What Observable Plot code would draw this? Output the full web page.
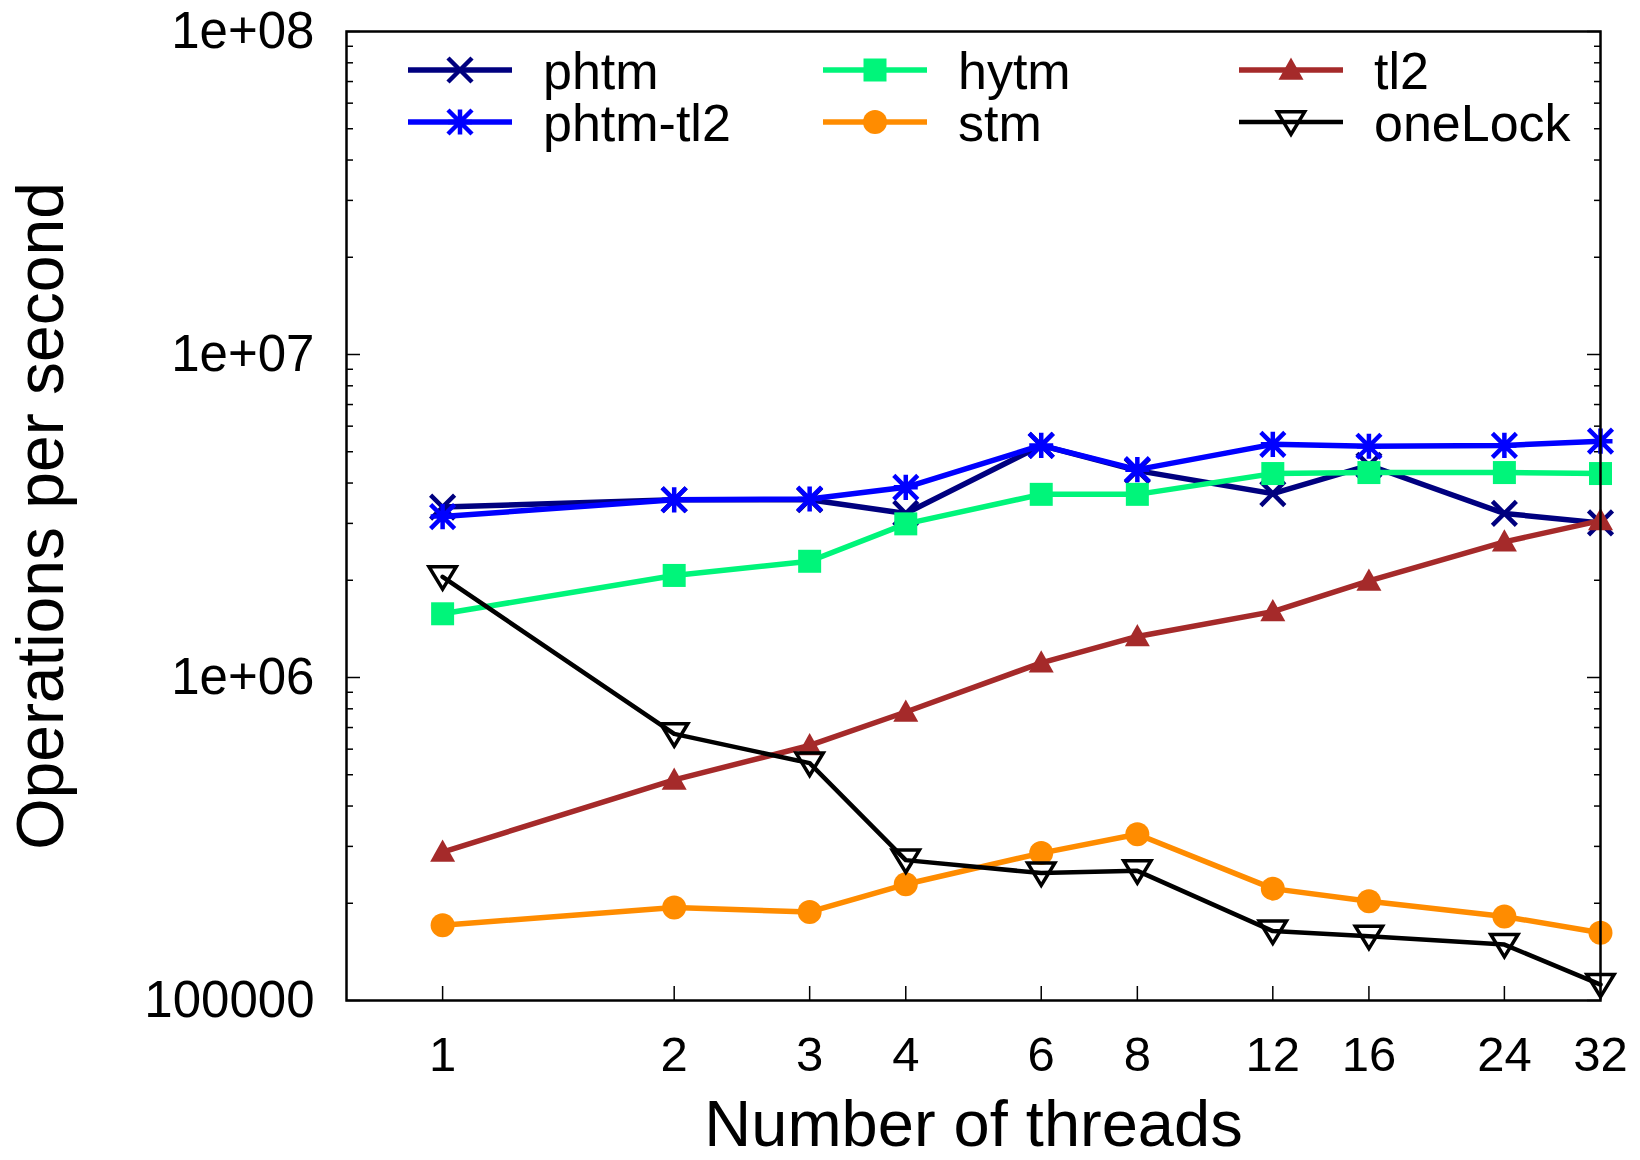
<!DOCTYPE html>
<html>
<head>
<meta charset="utf-8">
<script src="https://cdn.jsdelivr.net/npm/d3@7"></script>
<script src="https://cdn.jsdelivr.net/npm/@observablehq/plot@0.6"></script>
<style>
  html, body { margin: 0; padding: 0; background: #ffffff; }
  #chart { width: 1640px; height: 1160px; }
</style>
</head>
<body>
<div id="chart"></div>
<script>
// ---------------- data ----------------
const threads = [1, 2, 3, 4, 6, 8, 12, 16, 24, 32];
const seriesNames = ["phtm", "phtm-tl2", "hytm", "stm", "tl2", "oneLock"];
const phtm    = [3.37e6, 3.55e6, 3.55e6, 3.22e6, 5.23e6, 4.37e6, 3.71e6, 4.54e6, 3.22e6, 3.01e6];
const phtmTl2 = [3.15e6, 3.55e6, 3.57e6, 3.88e6, 5.23e6, 4.40e6, 5.27e6, 5.20e6, 5.23e6, 5.39e6];
const hytm    = [1.575e6, 2.07e6, 2.29e6, 2.99e6, 3.69e6, 3.69e6, 4.28e6, 4.31e6, 4.31e6, 4.28e6];
const stm     = [1.71e5, 1.94e5, 1.88e5, 2.29e5, 2.86e5, 3.27e5, 2.22e5, 2.03e5, 1.82e5, 1.62e5];
const tl2     = [2.88e5, 4.82e5, 6.16e5, 7.82e5, 1.11e6, 1.34e6, 1.60e6, 1.99e6, 2.63e6, 3.06e6];
const oneLock = [2.05e6, 6.69e5, 5.43e5, 2.72e5, 2.48e5, 2.52e5, 1.64e5, 1.58e5, 1.49e5, 1.12e5];
const xTickValues = [1, 2, 3, 4, 6, 8, 12, 16, 24, 32];
const xTickLabels = ["1", "2", "3", "4", "6", "8", "12", "16", "24", "32"];
const yTickValues = [1e5, 1e6, 1e7, 1e8];
const yTickLabels = ["100000", "1e+06", "1e+07", "1e+08"];
const yMinorValues = [2e5,3e5,4e5,5e5,6e5,7e5,8e5,9e5,2e6,3e6,4e6,5e6,6e6,7e6,8e6,9e6,2e7,3e7,4e7,5e7,6e7,7e7,8e7,9e7];
const xLabel = "Number of threads";
const yLabel = "Operations per second";

// ---------------- symbols ----------------
const R = s => Math.sqrt(s / Math.PI);
const symCross = {draw(c, s) { const r = R(s); c.moveTo(-r, -r); c.lineTo(r, r); c.moveTo(-r, r); c.lineTo(r, -r); }};
const symStar = {draw(c, s) { const r = R(s); c.moveTo(-r, -r); c.lineTo(r, r); c.moveTo(-r, r); c.lineTo(r, -r); c.moveTo(0, -r * 1.05); c.lineTo(0, r * 1.05); c.moveTo(-r, 0); c.lineTo(r, 0); }};
const symSquare = {draw(c, s) { const r = R(s); c.rect(-r, -r, 2 * r, 2 * r); }};
const symCircle = {draw(c, s) { const r = R(s); c.moveTo(r, 0); c.arc(0, 0, r, 0, 2 * Math.PI); }};
const symTriUp = {draw(c, s) { const r = R(s); c.moveTo(0, -r); c.lineTo(r, 0.78 * r); c.lineTo(-r, 0.78 * r); c.closePath(); }};
const symTriDown = {draw(c, s) { const r = R(s); c.moveTo(0, r * 0.95); c.lineTo(r * 1.05, -0.78 * r); c.lineTo(-r * 1.05, -0.78 * r); c.closePath(); }};

const styles = {
  "phtm":     {color: "#00007f", symbol: symCross,   r: 12,   fill: "none", sw: 4.5, lw: 5.5},
  "phtm-tl2": {color: "#0000ff", symbol: symStar,    r: 12,   fill: "none", sw: 4.5, lw: 5.5},
  "hytm":     {color: "#00f57a", symbol: symSquare,  r: 11.5, fill: "#00f57a", sw: 0, lw: 5.5},
  "stm":      {color: "#ff8c00", symbol: symCircle,  r: 12,   fill: "#ff8c00", sw: 0, lw: 5.5},
  "tl2":      {color: "#a52a2a", symbol: symTriUp,   r: 12.5, fill: "#a52a2a", sw: 0, lw: 5.5},
  "oneLock":  {color: "#000000", symbol: symTriDown, r: 13,   fill: "none", sw: 3.5, lw: 4.5}
};
const valuesBySeries = {"phtm": phtm, "phtm-tl2": phtmTl2, "hytm": hytm, "stm": stm, "tl2": tl2, "oneLock": oneLock};

const rows = seriesNames.flatMap(name => threads.map((t, i) => ({series: name, t, v: valuesBySeries[name][i]})));

const font = "'Liberation Sans', Arial, Helvetica, sans-serif";

const marks = [];
for (const name of seriesNames) {
  const st = styles[name];
  const data = rows.filter(d => d.series === name);
  marks.push(Plot.line(data, {x: "t", y: "v", stroke: st.color, strokeWidth: st.lw}));
  marks.push(Plot.dot(data, {x: "t", y: "v", symbol: st.symbol, r: st.r, fill: st.fill, stroke: st.sw ? st.color : "none", strokeWidth: st.sw}));
}

const yTickRows = yTickValues.map((v, i) => ({v, label: yTickLabels[i]}));
const xTickRows = xTickValues.map((v, i) => ({v, label: xTickLabels[i]}));

const chart = Plot.plot({
  width: 1640,
  height: 1160,
  marginLeft: 346,
  marginRight: 40,
  marginTop: 31,
  marginBottom: 160,
  style: {fontFamily: font, background: "white", color: "black", overflow: "visible"},
  x: {type: "log", base: 2, domain: [0.75, 32]},
  y: {type: "log", domain: [1e5, 1e8]},
  marks: [
    // inward ticks
    Plot.axisY(yTickValues, {anchor: "left", tickSize: -14, tickFormat: () => "", label: null, strokeWidth: 1.5}),
    Plot.axisY(yTickValues, {anchor: "right", tickSize: -14, tickFormat: () => "", label: null, strokeWidth: 1.5}),
    Plot.axisY(yMinorValues, {anchor: "left", tickSize: -7, tickFormat: () => "", label: null, strokeWidth: 1.5}),
    Plot.axisY(yMinorValues, {anchor: "right", tickSize: -7, tickFormat: () => "", label: null, strokeWidth: 1.5}),
    Plot.axisX(xTickValues, {anchor: "bottom", tickSize: -14, tickFormat: () => "", label: null, strokeWidth: 1.5}),
    // tick labels
    Plot.text(yTickRows, {y: "v", text: "label", frameAnchor: "left", dx: -32, textAnchor: "end", lineAnchor: "middle", fontSize: 51}),
    Plot.text(xTickRows, {x: "v", text: "label", frameAnchor: "bottom", dy: 70, textAnchor: "middle", lineAnchor: "bottom", fontSize: 49}),
    // axis titles
    Plot.text([xLabel], {frameAnchor: "bottom", dy: 145, textAnchor: "middle", lineAnchor: "bottom", fontSize: 65}),
    Plot.text([yLabel], {frameAnchor: "left", dx: -284, rotate: -90, textAnchor: "middle", lineAnchor: "bottom", fontSize: 66}),
    ...marks,
    Plot.frame({stroke: "black", strokeWidth: 2.5})
  ]
});
document.getElementById("chart").appendChild(chart);

// ---------------- legend (inside the frame, 3 columns x 2 rows) ----------------
const svg = d3.select(chart);
const legendCols = [408, 823, 1239];
const legendRows = [70, 122];
const legendOrder = [["phtm", "phtm-tl2"], ["hytm", "stm"], ["tl2", "oneLock"]];
const lg = svg.append("g").attr("font-family", font).attr("font-size", 52).attr("text-anchor", "start");
legendOrder.forEach((col, ci) => {
  col.forEach((name, ri) => {
    const st = styles[name];
    const x0 = legendCols[ci], y0 = legendRows[ri];
    const g = lg.append("g").attr("transform", `translate(${x0},${y0})`);
    g.append("line").attr("x1", 0).attr("x2", 104).attr("y1", 0).attr("y2", 0)
      .attr("stroke", st.color).attr("stroke-width", st.lw);
    g.append("path").attr("transform", "translate(52,0)")
      .attr("d", d3.symbol(st.symbol, st.r * st.r * Math.PI)())
      .attr("fill", st.fill).attr("stroke", st.sw ? st.color : "none").attr("stroke-width", st.sw);
    g.append("text").attr("x", 135).attr("y", 0).attr("dy", "0.36em")
      .attr("text-anchor", "start").attr("fill", "black").text(name);
  });
});
</script>
</body>
</html>
